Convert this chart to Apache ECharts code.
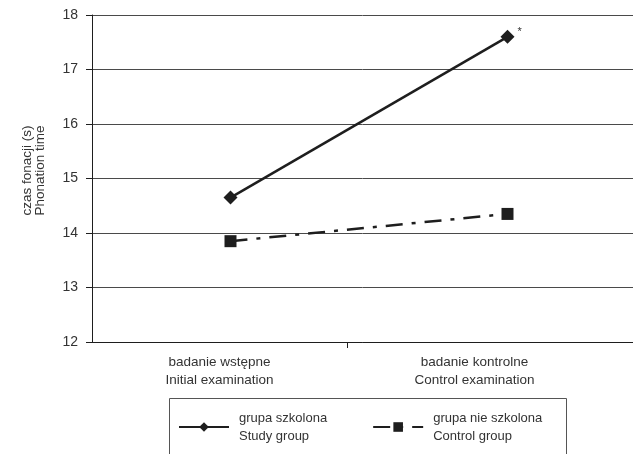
<!DOCTYPE html>
<html>
<head>
<meta charset="utf-8">
<script src="https://cdn.jsdelivr.net/npm/echarts@6/dist/echarts.min.js"></script>
<style>
  html, body { margin: 0; padding: 0; background: #fff; }
  #chart { width: 633px; height: 454px; }
</style>
</head>
<body>
<div id="chart"></div>
<script>
// Examination stages (Polish / English)
const categories = ['badanie wstępne\nInitial examination', 'badanie kontrolne\nControl examination'];
// Phonation time, seconds
const studyGroup = [14.65, 17.6];
const controlGroup = [13.85, 14.35];
// significance marks per stage for the study group
const studyMarks = ['', '*'];
const seriesNames = ['grupa szkolona', 'grupa nie szkolona'];
const seriesNamesEn = ['Study group', 'Control group'];
const yMin = 12, yMax = 18, yStep = 1;
const yTitle = 'czas fonacji (s)\nPhonation time';
// stage boundaries on the category axis (start, divider, end)
const stageBounds = ['start', 'divider', 'end'];

const FONT = "'Liberation Sans', Arial, sans-serif";
const INK = '#1e1e1e';
const TEXT = '#333';

const chart = echarts.init(document.getElementById('chart'), null, { renderer: 'canvas' });

const plotTop = 15, plotBottom = 112;

const option = {
  animation: false,
  backgroundColor: '#fff',
  textStyle: { fontFamily: FONT },
  grid: [
    // frame: value gridlines, y axis and baseline
    { left: 92, right: 0, top: plotTop, bottom: plotBottom, outerBoundsMode: 'none' },
    // stage labels and divider tick
    { left: 92, width: 510, top: plotTop, bottom: plotBottom, outerBoundsMode: 'none' },
    // data
    { left: 92, width: 554, top: plotTop, bottom: plotBottom, outerBoundsMode: 'none' }
  ],
  xAxis: [
    {
      gridIndex: 0, type: 'category', data: categories, boundaryGap: true,
      axisLine: { show: true, lineStyle: { color: INK, width: 1 } },
      axisTick: { show: false }, axisLabel: { show: false }, splitLine: { show: false }
    },
    {
      gridIndex: 1, type: 'category', data: categories, boundaryGap: true,
      axisLine: { show: false },
      axisTick: { show: false },
      axisLabel: {
        show: true, margin: 11, color: TEXT, fontFamily: FONT, fontSize: 13.5, lineHeight: 18
      },
      splitLine: { show: false }
    },
    {
      gridIndex: 2, type: 'category', data: categories, boundaryGap: true, show: false
    },
    {
      gridIndex: 1, type: 'category', data: stageBounds, boundaryGap: false, position: 'bottom',
      axisLine: { show: false },
      axisTick: { show: true, length: 6, interval: (i) => i === 1, lineStyle: { color: INK } },
      axisLabel: { show: false },
      splitLine: { show: false }
    }
  ],
  yAxis: [
    {
      gridIndex: 0, type: 'value', min: yMin, max: yMax, interval: yStep,
      name: yTitle, nameLocation: 'middle', nameGap: 45, nameRotate: 90,
      nameTextStyle: { color: TEXT, fontFamily: FONT, fontSize: 13.5, lineHeight: 13, padding: [0, 0, 0, 16] },
      axisLine: { show: true, lineStyle: { color: INK, width: 1 } },
      axisTick: { show: true, length: 6, lineStyle: { color: INK } },
      axisLabel: { margin: 14, color: TEXT, fontFamily: FONT, fontSize: 14 },
      splitLine: { show: true, lineStyle: { color: '#4a4a4a', width: 1 } }
    },
    { gridIndex: 1, type: 'value', min: yMin, max: yMax, interval: yStep, show: false },
    { gridIndex: 2, type: 'value', min: yMin, max: yMax, interval: yStep, show: false }
  ],
  legend: {
    left: 178, top: 409, padding: 0, itemGap: 45,
    itemWidth: 50, itemHeight: 12,
    data: seriesNames,
    formatter: (name) => name + '\n' + seriesNamesEn[seriesNames.indexOf(name)],
    textStyle: { color: TEXT, fontFamily: FONT, fontSize: 13, lineHeight: 18, padding: [0, 0, 0, 5] }
  },
  graphic: [
    {
      type: 'rect', silent: true,
      shape: { x: 169.5, y: 398.5, width: 397, height: 80 },
      style: { fill: 'none', stroke: '#555', lineWidth: 1 }
    }
  ],
  series: [
    {
      name: seriesNames[0], type: 'line', xAxisIndex: 2, yAxisIndex: 2,
      data: studyGroup.map((v, i) => studyMarks[i]
        ? { value: v, label: { show: true, formatter: studyMarks[i], position: 'right', distance: 3, offset: [0, -5], color: TEXT, fontSize: 11 } }
        : v),
      symbol: 'diamond', symbolSize: 14,
      itemStyle: { color: INK },
      lineStyle: { color: INK, width: 2.5, type: 'solid' },
      z: 3
    },
    {
      name: seriesNames[1], type: 'line', xAxisIndex: 2, yAxisIndex: 2,
      data: controlGroup,
      symbol: 'rect', symbolSize: 12,
      itemStyle: { color: INK },
      lineStyle: { color: INK, width: 2.5, type: [17, 9, 4, 9] },
      z: 3
    }
  ]
};

chart.setOption(option);
</script>
</body>
</html>
